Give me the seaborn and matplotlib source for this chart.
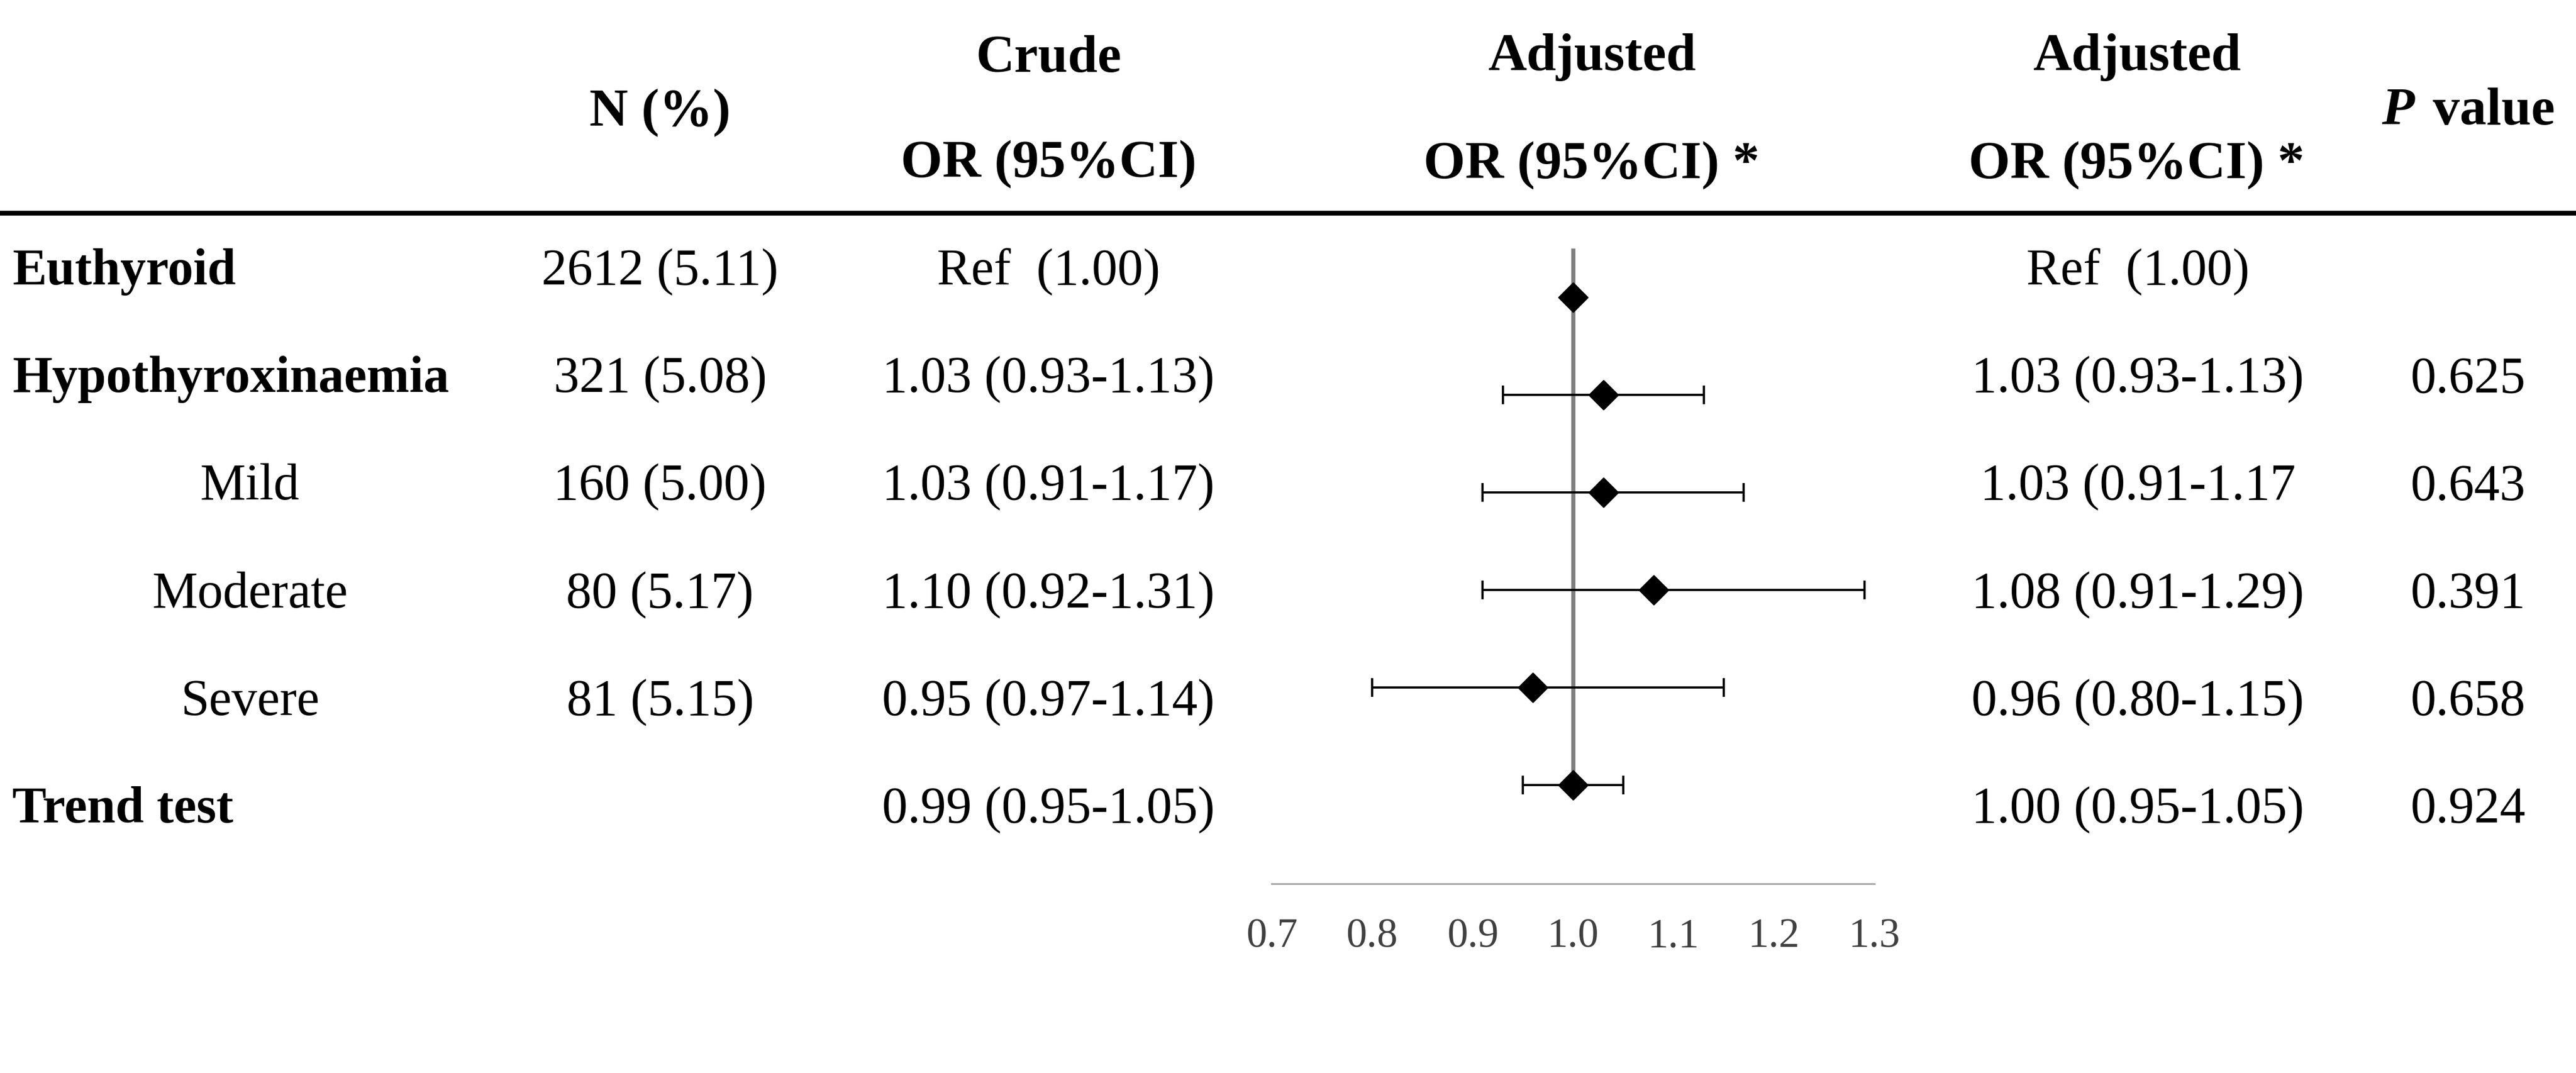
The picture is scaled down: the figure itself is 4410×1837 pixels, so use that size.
import numpy as np
import pandas as pd
import matplotlib
matplotlib.use("Agg")
import matplotlib.pyplot as plt
import seaborn as sns

# ---------------- data ----------------
row_labels = ["Euthyroid", "Hypothyroxinaemia", "Mild", "Moderate", "Severe", "Trend test"]
row_bold = [True, True, False, False, False, True]
n_pct = ["2612 (5.11)", "321 (5.08)", "160 (5.00)", "80 (5.17)", "81 (5.15)", ""]
crude_or = ["Ref  (1.00)", "1.03 (0.93-1.13)", "1.03 (0.91-1.17)", "1.10 (0.92-1.31)",
            "0.95 (0.97-1.14)", "0.99 (0.95-1.05)"]
adjusted_or = ["Ref  (1.00)", "1.03 (0.93-1.13)", "1.03 (0.91-1.17", "1.08 (0.91-1.29)",
               "0.96 (0.80-1.15)", "1.00 (0.95-1.05)"]
p_values = ["", "0.625", "0.643", "0.391", "0.658", "0.924"]
or_est = [1.00, 1.03, 1.03, 1.08, 0.96, 1.00]
ci_low = [np.nan, 0.93, 0.91, 0.91, 0.80, 0.95]
ci_high = [np.nan, 1.13, 1.17, 1.29, 1.15, 1.05]
x_ticks = [0.7, 0.8, 0.9, 1.0, 1.1, 1.2, 1.3]
tick_labels = ["0.7", "0.8", "0.9", "1.0", "1.1", "1.2", "1.3"]

# ---------------- style ----------------
sns.set_theme(style="white")
plt.rcParams["font.family"] = ["Liberation Serif", "DejaVu Serif"]
plt.rcParams["text.color"] = "black"

W, H = 4410, 1837
DPI = 300
fig = plt.figure(figsize=(W / DPI, H / DPI), dpi=DPI)
fig.patch.set_facecolor("white")


def fx(px):
    return px / W


def fy(py):
    return 1 - py / H


HDR = 22
BODY = 21

# ---------------- header ----------------
def htext(x, y, s, **kw):
    fig.text(fx(x), fy(y), s, fontsize=HDR, fontweight="bold", ha="center",
             va="baseline", color="black", **kw)

htext(1130, 215, "N (%)")
htext(1795, 123, "Crude")
htext(1795, 303, "OR (95%CI)")
htext(2725, 120, "Adjusted")
htext(2725, 305, "OR (95%CI) *")
htext(3658, 120, "Adjusted")
htext(3658, 305, "OR (95%CI) *")
fig.text(fx(4077), fy(213), "P", fontsize=HDR, fontweight="bold", fontstyle="italic",
         ha="left", va="baseline", color="black")
fig.text(fx(4165), fy(213), "value", fontsize=HDR, fontweight="bold",
         ha="left", va="baseline", color="black")

# thick header rule
fig.add_artist(plt.Line2D([0, 1], [fy(365), fy(365)], transform=fig.transFigure,
                          color="black", linewidth=2.0, solid_capstyle="butt"))

# ---------------- body text ----------------
base0, step = 487, 184.2
for i, lab in enumerate(row_labels):
    yb = base0 + step * i
    if row_bold[i]:
        fig.text(fx(21), fy(yb), lab, fontsize=BODY, fontweight="bold",
                 ha="left", va="baseline", color="black")
    else:
        fig.text(fx(428), fy(yb), lab, fontsize=BODY, ha="center",
                 va="baseline", color="black")
    fig.text(fx(1130), fy(yb), n_pct[i], fontsize=BODY, ha="center", va="baseline", color="black")
    fig.text(fx(1795), fy(yb), crude_or[i], fontsize=BODY, ha="center", va="baseline", color="black")
    fig.text(fx(3660), fy(yb), adjusted_or[i], fontsize=BODY, ha="center", va="baseline", color="black")
    fig.text(fx(4225), fy(yb), p_values[i], fontsize=BODY, ha="center", va="baseline", color="black")

# ---------------- forest plot ----------------
ax_left, ax_right = 2177, 3209
ax_top, ax_bottom = 380, 1513
ax = fig.add_axes([fx(ax_left), fy(ax_bottom), (ax_right - ax_left) / W,
                   (ax_bottom - ax_top) / H])
ax.set_facecolor("none")

df = pd.DataFrame({"row": np.arange(len(row_labels)), "or": or_est,
                   "lo": ci_low, "hi": ci_high})

y0_px, y_step_px = 509, 167
ax.set_xlim(x_ticks[0], x_ticks[-1])
ax.set_ylim((ax_bottom - y0_px) / y_step_px, (ax_top - y0_px) / y_step_px)

# reference line at OR = 1
ax.vlines(1.0, (425 - y0_px) / y_step_px, (1365 - y0_px) / y_step_px,
          color="#7f7f7f", linewidth=1.7, zorder=1)

ci = df.dropna()
ax.errorbar(ci["or"], ci["row"],
            xerr=[ci["or"] - ci["lo"], ci["hi"] - ci["or"]],
            fmt="none", ecolor="black", elinewidth=0.9, capsize=3.8,
            capthick=0.9, zorder=2)
sns.scatterplot(data=df, x="or", y="row", marker="D", s=72, color="black",
                edgecolor="black", linewidth=0.5, ax=ax, zorder=3, legend=False)

for side in ["top", "left", "right"]:
    ax.spines[side].set_visible(False)
ax.spines["bottom"].set_color("#a6a6a6")
ax.spines["bottom"].set_linewidth(0.7)
ax.set_xticks(x_ticks)
ax.set_xticklabels(tick_labels)
ax.tick_params(axis="x", length=0, pad=14, labelsize=17, labelcolor="#404040")
ax.set_yticks([])
ax.set_xlabel("")
ax.set_ylabel("")
ax.grid(False)

fig.savefig("out.png", dpi=DPI, facecolor="white")
